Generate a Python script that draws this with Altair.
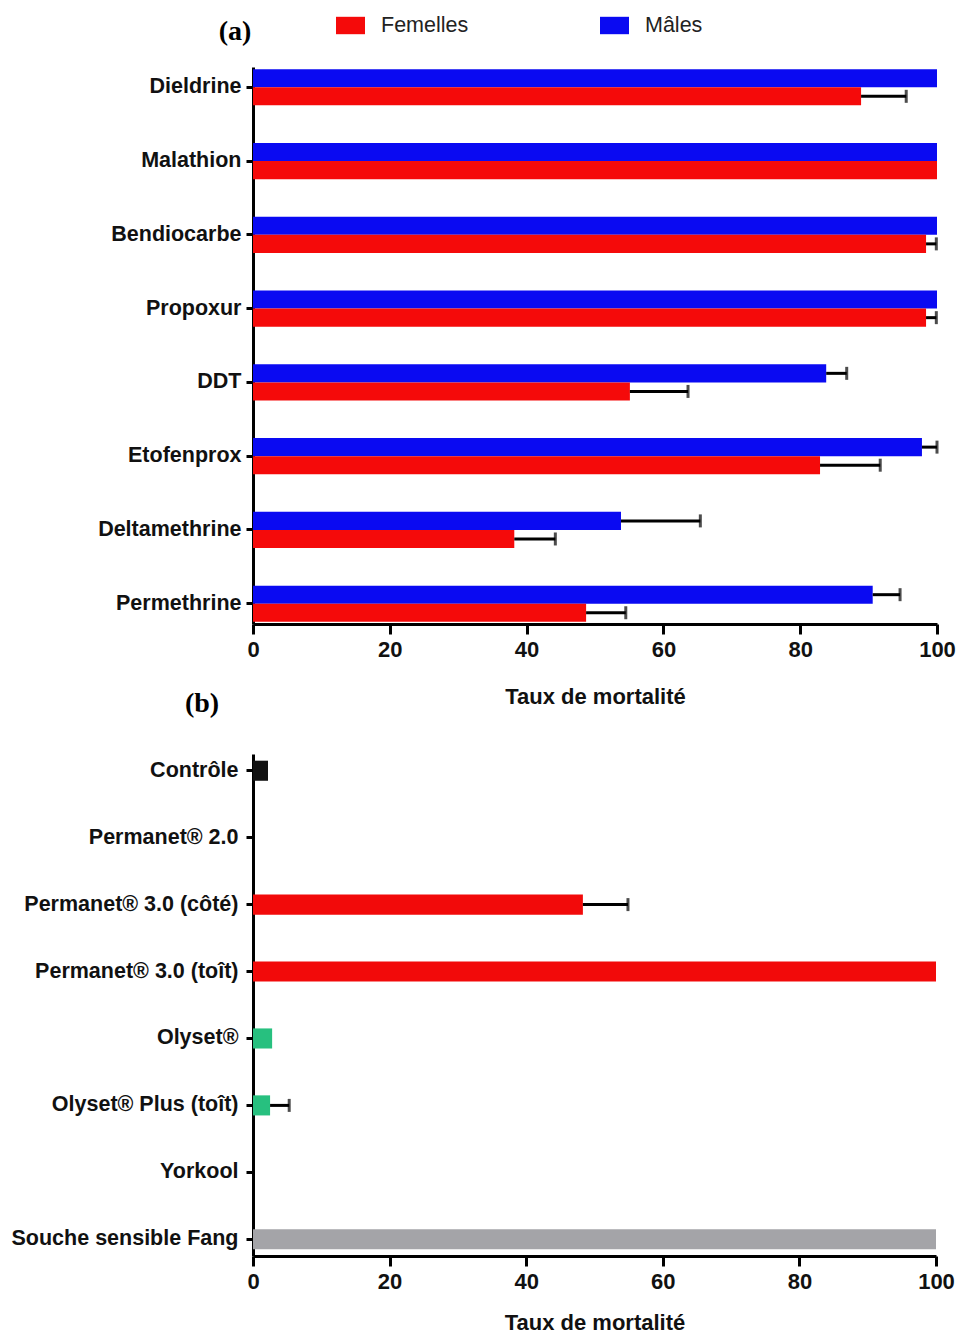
import altair as alt
import pandas as pd

# ---- Panel (a): mortality by insecticide and sex ----
insecticides = ["Dieldrine", "Malathion", "Bendiocarbe", "Propoxur",
                "DDT", "Etofenprox", "Deltamethrine", "Permethrine"]
males = [100, 100, 100, 100, 83.8, 97.8, 53.8, 90.6]
males_err = [0, 0, 0, 0, 3.0, 2.2, 11.6, 4.0]
females = [88.9, 100, 98.4, 98.4, 55.1, 82.9, 38.2, 48.7]
females_err = [6.6, 0, 1.5, 1.5, 8.5, 8.8, 6.0, 5.8]

# ---- Panel (b): mortality by net type ----
nets = ["Contrôle", "Permanet® 2.0", "Permanet® 3.0 (côté)", "Permanet® 3.0 (toît)",
        "Olyset®", "Olyset® Plus (toît)", "Yorkool", "Souche sensible Fang"]
net_groups = ["Contrôle", "Permanet", "Permanet", "Permanet",
              "Olyset", "Olyset", "Yorkool", "Souche"]
net_mort = [2.2, 0, 48.3, 100, 2.8, 2.5, 0, 100]
net_err = [0, 0, 6.6, 0, 0, 2.8, 0, 0]

group_domain = ["Contrôle", "Permanet", "Olyset", "Yorkool", "Souche"]
group_colors = ["#111111", "#f20a0a", "#27c07f", "#888888", "#a4a4a8"]

SANS = "Liberation Sans, Arial, sans-serif"
SERIF = "Liberation Serif, Times New Roman, serif"

rows_a = []
for name, m, me, f, fe in zip(insecticides, males, males_err, females, females_err):
    rows_a.append({"insecticide": name, "sexe": "Mâles", "taux": m, "err": me, "upper": m + me})
    rows_a.append({"insecticide": name, "sexe": "Femelles", "taux": f, "err": fe, "upper": f + fe})
df_a = pd.DataFrame(rows_a)

df_b = pd.DataFrame({"filet": nets, "groupe": net_groups, "taux": net_mort, "err": net_err})
df_b["upper"] = df_b["taux"] + df_b["err"]


def x_axis(title_pad):
    return alt.Axis(values=[0, 20, 40, 60, 80, 100], title="Taux de mortalité",
                    labelFont=SANS, labelFontWeight="bold", labelFontSize=22,
                    labelColor="#111", labelPadding=5, labelFlush=False,
                    titleFont=SANS, titleFontWeight="bold", titleFontSize=22,
                    titleColor="#111", titlePadding=title_pad,
                    domainColor="black", domainWidth=3, tickColor="black",
                    tickWidth=3, tickSize=10, grid=False)


def y_axis(size, label_pad=6):
    return alt.Axis(title=None, labelFont=SANS, labelFontWeight="bold",
                    labelFontSize=size, labelColor="#111", labelPadding=label_pad,
                    domainColor="black", domainWidth=3, tickColor="black",
                    tickWidth=3, tickSize=7, grid=False, labelLimit=400,
                    minExtent=243, maxExtent=243)


W_A, H_A = 684, 557
W_B, H_B = 683, 502

y_a = alt.Y("insecticide:N", sort=insecticides,
            scale=alt.Scale(paddingInner=0.51, paddingOuter=0.03),
            axis=y_axis(21.5, 5))
yoff_a = alt.YOffset("sexe:N", sort=["Mâles", "Femelles"])
x_a = alt.X("taux:Q", scale=alt.Scale(domain=[0, 100], nice=False), axis=x_axis(26))

base_a = alt.Chart(df_a)
bars_a = base_a.mark_bar().encode(
    y=y_a, yOffset=yoff_a, x=x_a,
    color=alt.Color("sexe:N",
                    scale=alt.Scale(domain=["Femelles", "Mâles"], range=["#f50a0a", "#0a0af2"]),
                    legend=alt.Legend(title=None, orient="none", legendX=83, legendY=-56,
                                      direction="horizontal", columns=2, columnPadding=131,
                                      symbolType="M-1,-0.6H1V0.6H-1Z", symbolSize=841,
                                      symbolStrokeWidth=0, labelOffset=16,
                                      labelFont=SANS, labelFontSize=21.5,
                                      labelColor="#222")),
)
err_line_a = base_a.transform_filter("datum.err > 0").mark_rule(color="black", strokeWidth=3).encode(
    y=y_a, yOffset=yoff_a, x="taux:Q", x2="upper:Q")
err_cap_a = base_a.transform_filter("datum.err > 0").mark_tick(color="black", thickness=3, size=13).encode(
    y=y_a, yOffset=yoff_a, x="upper:Q")

labels = pd.DataFrame({"t": ["(a)", "(b)"]})
tag_a = alt.Chart(labels).transform_filter("datum.t == '(a)'").mark_text(
    font=SERIF, fontWeight="bold", fontSize=28, align="center", baseline="middle", color="black"
).encode(text="t:N", x=alt.value(-18), y=alt.value(-35))
tag_b = alt.Chart(labels).transform_filter("datum.t == '(b)'").mark_text(
    font=SERIF, fontWeight="bold", fontSize=28, align="center", baseline="middle", color="black"
).encode(text="t:N", x=alt.value(-51), y=alt.value(H_A + 80))

panel_a = alt.layer(bars_a, err_line_a, err_cap_a, tag_a, tag_b).properties(width=W_A, height=H_A)

y_b = alt.Y("filet:N", sort=nets,
            scale=alt.Scale(paddingInner=0.70, paddingOuter=0.10),
            axis=y_axis(21.5, 8))
x_b = alt.X("taux:Q", scale=alt.Scale(domain=[0, 100], nice=False), axis=x_axis(20))

base_b = alt.Chart(df_b)
bars_b = base_b.mark_bar().encode(
    y=y_b, x=x_b,
    color=alt.Color("groupe:N", scale=alt.Scale(domain=group_domain, range=group_colors), legend=None),
)
err_line_b = base_b.transform_filter("datum.err > 0").mark_rule(color="black", strokeWidth=3).encode(
    y=y_b, x="taux:Q", x2="upper:Q")
err_cap_b = base_b.transform_filter("datum.err > 0").mark_tick(color="black", thickness=3, size=13).encode(
    y=y_b, x="upper:Q")

panel_b = alt.layer(bars_b, err_line_b, err_cap_b).properties(width=W_B, height=H_B)

chart = alt.vconcat(panel_a, panel_b, spacing=36).resolve_scale(color="independent").properties(
    padding={"left": 10, "top": 11, "right": 0, "bottom": 5},
    background="white",
).configure_view(strokeWidth=0, stroke=None)

chart.save("out.html", embed_options={"renderer": "svg", "actions": False})
